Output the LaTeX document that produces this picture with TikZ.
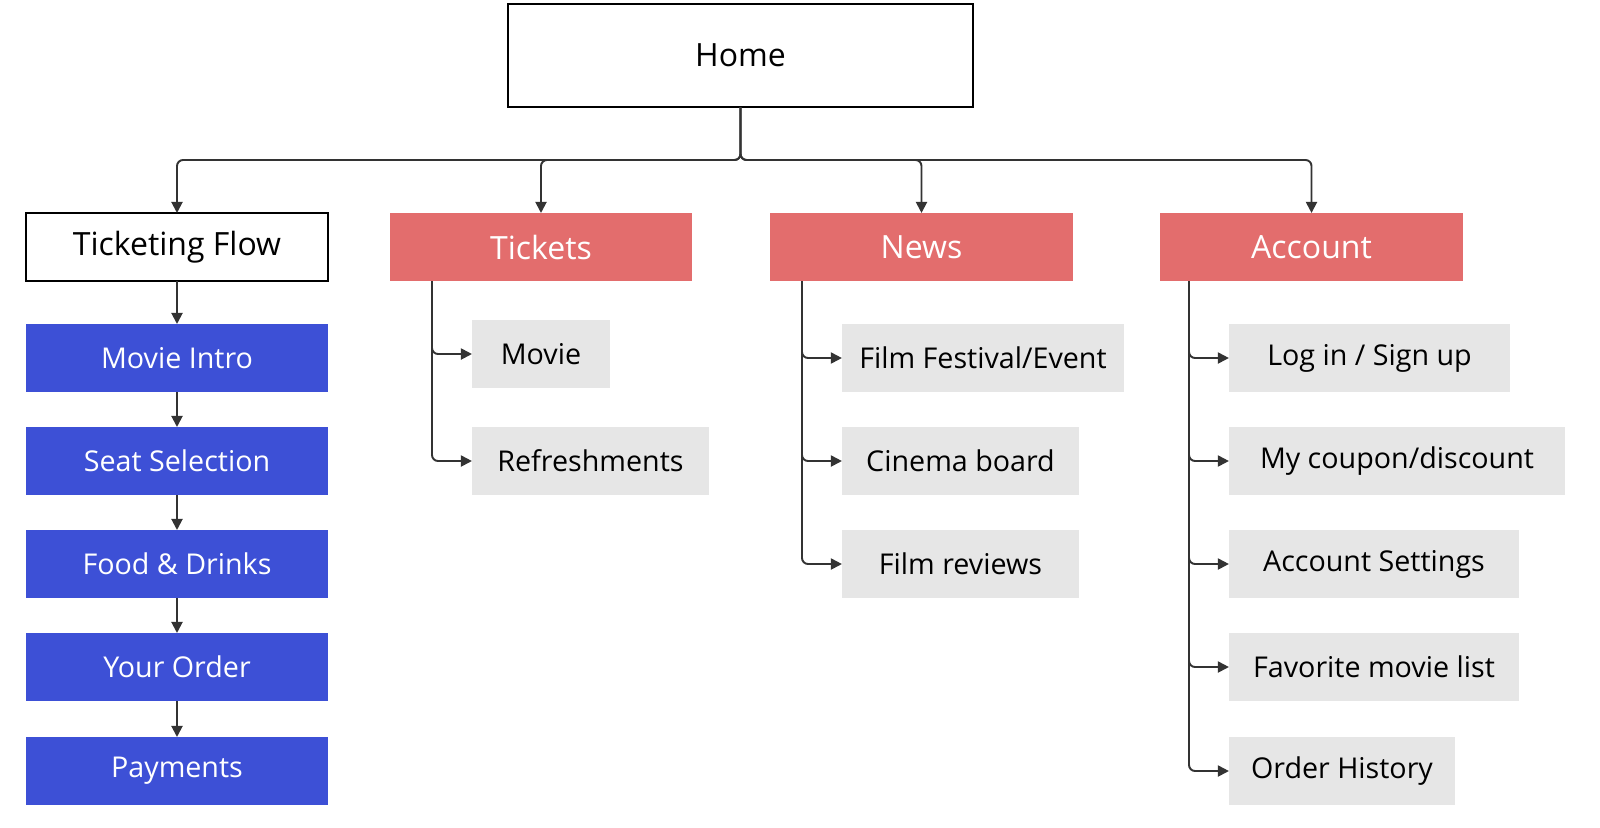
\documentclass[tikz,border=0pt]{standalone}
\usepackage{fontspec}
\setmainfont{Open Sans}
\usetikzlibrary{arrows.meta}
\definecolor{redbox}{HTML}{E36D6D}
\definecolor{bluebox}{HTML}{3D50D6}
\definecolor{graybox}{HTML}{E6E6E6}
\definecolor{linec}{HTML}{333333}
\begin{document}
\begin{tikzpicture}[x=0.01cm,y=-0.01cm,
  box/.style={minimum height=0.68cm,inner sep=0pt,outer sep=0pt,font=\fontsize{8.15pt}{9pt}\selectfont},
  hdr/.style={box,font=\fontsize{9.1pt}{10pt}\selectfont},
  whitebox/.style={hdr,draw=black,line width=0.6pt,fill=white},
  redb/.style={hdr,fill=redbox,text=white},
  blueb/.style={box,fill=bluebox,text=white},
  grayb/.style={box,fill=graybox,text=black},
  conn/.style={draw=linec,line width=0.55pt,rounded corners=0.06cm,-{Triangle[length=1.1mm,width=1.1mm]}}
  ]
\useasboundingbox (0,0) rectangle (1600,827);
% top
\node[whitebox,minimum width=4.65cm,minimum height=1.03cm] (home) at (740.5,55.5) {Home};
\node[whitebox,minimum width=3.02cm] (tf) at (177,247) {Ticketing Flow};
\node[redb,minimum width=3.02cm] (tickets) at (541,247) {Tickets};
\node[redb,minimum width=3.03cm] (news) at (921.5,247) {News};
\node[redb,minimum width=3.03cm] (account) at (1311.5,247) {Account};
% ticketing flow
\node[blueb,minimum width=3.02cm] (mi) at (177,358) {Movie Intro};
\node[blueb,minimum width=3.02cm] (ss) at (177,461) {Seat Selection};
\node[blueb,minimum width=3.02cm] (fd) at (177,564) {Food \& Drinks};
\node[blueb,minimum width=3.02cm] (yo) at (177,667) {Your Order};
\node[blueb,minimum width=3.02cm] (pay) at (177,771) {Payments};
% tickets
\node[grayb,minimum width=1.38cm] (movie) at (541,354) {Movie};
\node[grayb,minimum width=2.37cm] (refr) at (590.5,461) {Refreshments};
% news
\node[grayb,minimum width=2.82cm] (ffe) at (983,358) {Film Festival/Event};
\node[grayb,minimum width=2.37cm] (cb) at (960.5,461) {Cinema board};
\node[grayb,minimum width=2.37cm] (fr) at (960.5,564) {Film reviews};
% account
\node[grayb,minimum width=2.81cm] (login) at (1369.5,358) {Log in / Sign up};
\node[grayb,minimum width=3.36cm] (coupon) at (1397,461) {My coupon/discount};
\node[grayb,minimum width=2.90cm] (sett) at (1374,564) {Account Settings};
\node[grayb,minimum width=2.90cm] (fav) at (1374,667) {Favorite movie list};
\node[grayb,minimum width=2.26cm] (oh) at (1342,771) {Order History};
% home connectors
\coordinate (hj) at (740.5,160);
\foreach \t in {tf,tickets,news,account}
  \draw[conn] (home.south) -- (hj) -| (\t.north);
% ticketing flow chain
\draw[conn,rounded corners=0] (tf) -- (mi);
\draw[conn,rounded corners=0] (mi) -- (ss);
\draw[conn,rounded corners=0] (ss) -- (fd);
\draw[conn,rounded corners=0] (fd) -- (yo);
\draw[conn,rounded corners=0] (yo) -- (pay);
% tickets children
\coordinate (tt) at (432,281);
\foreach \c in {movie,refr} \draw[conn] (tt) |- (\c.west);
% news children
\coordinate (nt) at (802,281);
\foreach \c in {ffe,cb,fr} \draw[conn] (nt) |- (\c.west);
% account children
\coordinate (at) at (1189,281);
\foreach \c in {login,coupon,sett,fav,oh} \draw[conn] (at) |- (\c.west);
\end{tikzpicture}
\end{document}
